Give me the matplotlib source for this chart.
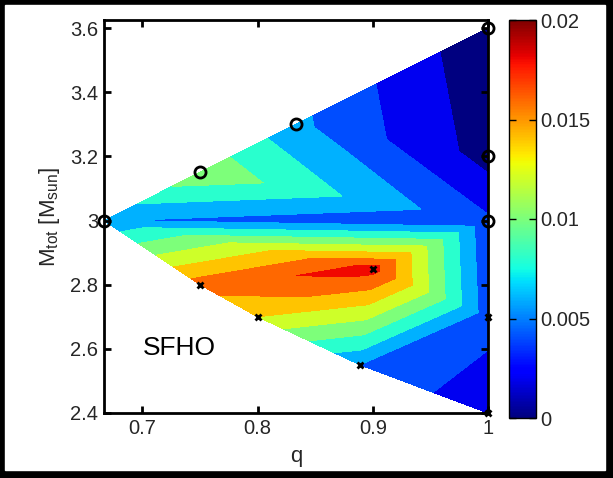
import numpy as np
import matplotlib.pyplot as plt
import matplotlib.tri as mtri
from matplotlib.colors import Normalize
from matplotlib.cm import ScalarMappable
from matplotlib.patches import Rectangle

plt.rcParams['font.family'] = ['Liberation Sans', 'DejaVu Sans']
plt.rcParams['mathtext.fontset'] = 'custom'
plt.rcParams['mathtext.rm'] = 'Liberation Sans'

# mass ratio, total mass and value at each simulated binary
q = [2/3, 0.75, 5/6, 1.0, 1.0, 1.0,
     0.75, 0.8, 8/9, 0.9, 1.0, 1.0]
mtot = [3.0, 3.15, 3.3, 3.6, 3.2, 3.0,
        2.8, 2.7, 2.55, 2.85, 2.7, 2.4]
val = [0.0061, 0.0116, 0.0065, 0.0005, 0.0012, 0.0043,
       0.0170, 0.0140, 0.0060, 0.0188, 0.0048, 0.0025]

# marker type per point
circle_idx = [0, 1, 2, 3, 4, 5]
cross_idx = [6, 7, 8, 9, 10, 11]

# triangulation used for the linear interpolation
triangles = [[0, 1, 5], [1, 2, 5], [2, 4, 5], [2, 3, 4],
             [0, 9, 5], [0, 6, 9], [6, 7, 9], [7, 8, 9],
             [8, 10, 9], [8, 11, 10], [9, 10, 5]]

levels = np.linspace(0, 0.02, 11)
cmap = plt.get_cmap('jet')
band_colors = [cmap(lv / 0.02) for lv in levels[:-1]]

fig = plt.figure(figsize=(6.13, 4.78), dpi=100, facecolor='black')
fig.patches.append(Rectangle((5/613, 8/478), 600/613, 465/478,
                             transform=fig.transFigure, color='white', zorder=-10))

ax = fig.add_axes([104/613, 65/478, 384/613, 393/478])
ax.set_zorder(1)
tri = mtri.Triangulation(q, mtot, triangles)
ax.tricontourf(tri, val, levels=levels, colors=band_colors)

ax.plot([q[i] for i in circle_idx], [mtot[i] for i in circle_idx], 'o',
        mfc='none', mec='black', mew=2, ms=8, clip_on=False)
ax.plot([q[i] for i in cross_idx], [mtot[i] for i in cross_idx], 'x',
        color='black', mew=2, ms=5, clip_on=False)

ax.text(0.70, 2.604, 'SFHO', fontsize=19, va='center', ha='left')

ax.set_xlim(2/3, 1)
ax.set_ylim(2.4, 3.625)
ax.set_xticks([0.7, 0.8, 0.9, 1.0])
ax.set_xticklabels(['0.7', '0.8', '0.9', '1'])
ax.set_yticks([2.4, 2.6, 2.8, 3.0, 3.2, 3.4, 3.6])
ax.set_yticklabels(['2.4', '2.6', '2.8', '3', '3.2', '3.4', '3.6'])
ax.tick_params(direction='in', length=5, width=2, top=True, right=True,
               labelsize=14.5, labelcolor='#262626', pad=4)
for s in ax.spines.values():
    s.set_linewidth(2)
ax.set_xlabel('q', fontsize=16, color='#262626', labelpad=6)
ax.set_ylabel(r'M$_{\mathrm{tot}}$ [M$_{\mathrm{sun}}$]', fontsize=16,
              color='#262626', labelpad=6)

cax = fig.add_axes([509/613, 60/478, 27/613, 398/478])
cax.set_zorder(1)
sm = ScalarMappable(norm=Normalize(0, 0.02), cmap=cmap)
cb = fig.colorbar(sm, cax=cax, ticks=[0, 0.005, 0.01, 0.015, 0.02])
cb.ax.set_yticklabels(['0', '0.005', '0.01', '0.015', '0.02'])
cb.ax.tick_params(direction='in', length=5, width=1, left=True, right=True,
                  labelsize=14.5, labelcolor='#262626', pad=3)
cb.outline.set_linewidth(1)

fig.savefig('out.png', dpi=100, facecolor='black')
